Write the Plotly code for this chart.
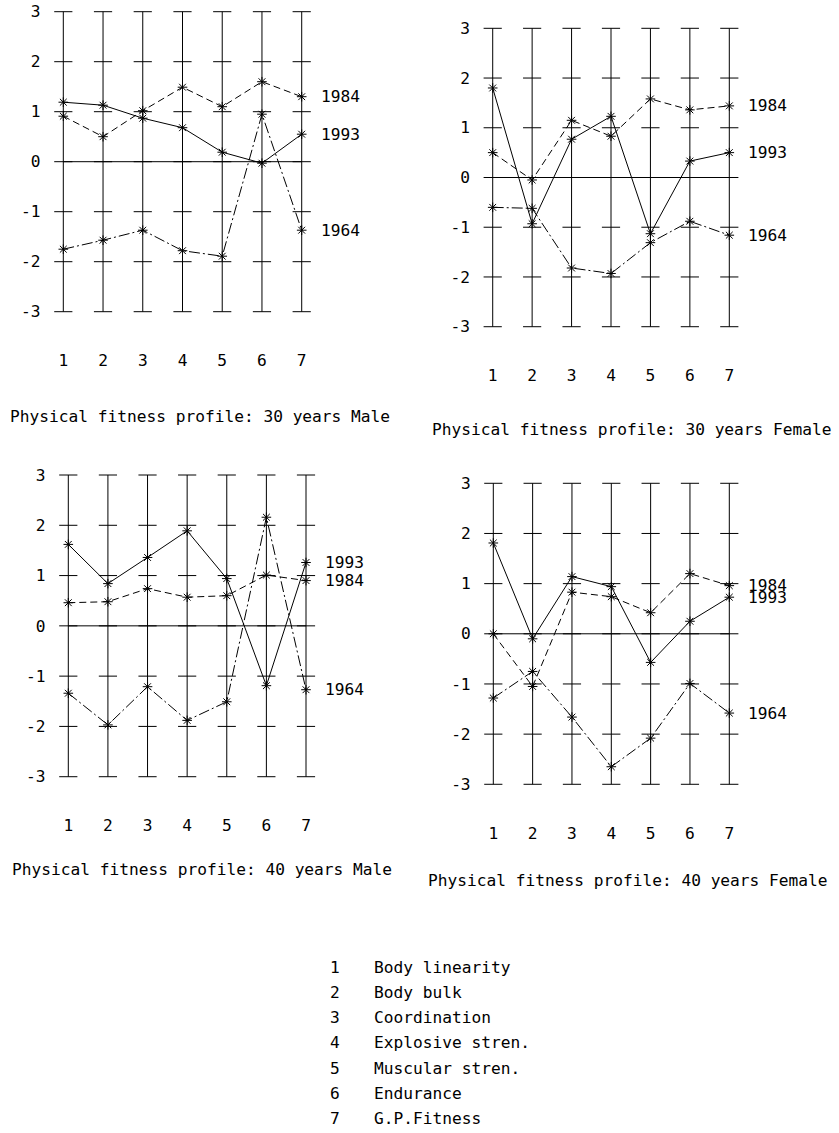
import plotly.graph_objects as go

W, H = 839, 1133
FONT = "DejaVu Sans Mono"
FS = 16.2

# ---------------- data ----------------
categories = [1, 2, 3, 4, 5, 6, 7]
category_names = ["Body linearity", "Body bulk", "Coordination", "Explosive stren.",
                  "Muscular stren.", "Endurance", "G.P.Fitness"]
y_ticks = [-3, -2, -1, 0, 1, 2, 3]
y_ticktext = ["-3", "-2", "-1", "0", "1", "2", "3"]
years = ["1993", "1984", "1964"]

m30_1993 = [1.19, 1.13, 0.87, 0.68, 0.19, -0.03, 0.55]
m30_1984 = [0.91, 0.50, 1.02, 1.49, 1.10, 1.60, 1.30]
m30_1964 = [-1.75, -1.57, -1.37, -1.78, -1.89, 0.95, -1.37]

f30_1993 = [1.80, -0.93, 0.77, 1.23, -1.13, 0.33, 0.50]
f30_1984 = [0.50, -0.05, 1.15, 0.83, 1.58, 1.36, 1.44]
f30_1964 = [-0.60, -0.62, -1.82, -1.93, -1.31, -0.88, -1.16]

m40_1993 = [1.62, 0.84, 1.36, 1.89, 0.94, -1.19, 1.26]
m40_1984 = [0.46, 0.48, 0.74, 0.57, 0.60, 1.01, 0.90]
m40_1964 = [-1.34, -1.97, -1.21, -1.88, -1.51, 2.16, -1.27]

f40_1993 = [1.81, -0.10, 1.14, 0.94, -0.57, 0.25, 0.73]
f40_1984 = [0.00, -1.05, 0.83, 0.74, 0.42, 1.20, 0.96]
f40_1964 = [-1.28, -0.75, -1.66, -2.65, -2.08, -0.99, -1.58]

titles = ["Physical fitness profile: 30 years Male",
          "Physical fitness profile: 30 years Female",
          "Physical fitness profile: 40 years Male",
          "Physical fitness profile: 40 years Female"]

# ---------------- layout (pixels) ----------------
# (x of category 1, x of category 7, y of +3, y of -3), title left, title y
panels = [
    dict(series=[m30_1993, m30_1984, m30_1964], px=(63.3, 301.7, 11.7, 311.7), tx=8, ty=417),
    dict(series=[f30_1993, f30_1984, f30_1964], px=(492.7, 729.3, 28.3, 326.7), tx=430, ty=429),
    dict(series=[m40_1993, m40_1984, m40_1964], px=(68.3, 306.0, 475.0, 776.7), tx=10, ty=869),
    dict(series=[f40_1993, f40_1984, f40_1964], px=(493.3, 729.3, 483.3, 784.3), tx=426, ty=880),
]
XR = [0.5, 7.5]
YR = [-3.7, 3.2]
styles = {"1993": "solid", "1984": "7px,4px", "1964": "11px,3px,2px,3px"}

fig = go.Figure()
layout_axes = {}
annotations = []

for i, p in enumerate(panels):
    n = i + 1
    xa = "x" if n == 1 else f"x{n}"
    ya = "y" if n == 1 else f"y{n}"
    x1px, x7px, y3px, ym3px = p["px"]
    step = (x7px - x1px) / 6
    pu = (ym3px - y3px) / 6
    left = x1px + (XR[0] - 1) * step
    right = x1px + (XR[1] - 1) * step
    top = y3px - (YR[1] - 3) * pu
    bot = ym3px + (-3 - YR[0]) * pu

    axis_common = dict(showgrid=False, zeroline=False, showline=False, ticks="",
                       automargin=False,
                       tickfont=dict(family=FONT, size=FS, color="black"))
    layout_axes["xaxis" if n == 1 else f"xaxis{n}"] = dict(
        domain=[left / W, right / W], range=XR, tickvals=categories,
        ticktext=[str(c) for c in categories], anchor=ya, ticklabelstandoff=2,
        **axis_common)
    layout_axes["yaxis" if n == 1 else f"yaxis{n}"] = dict(
        domain=[1 - bot / H, 1 - top / H], range=YR, tickvals=y_ticks,
        ticktext=y_ticktext, anchor=xa, ticklabelstandoff=2, **axis_common)

    # vertical scale lines
    vx, vy = [], []
    for c in categories:
        vx += [c, c, None]
        vy += [y_ticks[0], y_ticks[-1], None]
    fig.add_trace(go.Scatter(x=vx, y=vy, mode="lines", xaxis=xa, yaxis=ya,
                             line=dict(color="black", width=1), hoverinfo="skip",
                             showlegend=False))
    # tick marks on each scale line
    tx_, ty_ = [], []
    for c in categories:
        for t in y_ticks:
            tx_.append(c)
            ty_.append(t)
    fig.add_trace(go.Scatter(x=tx_, y=ty_, mode="markers", xaxis=xa, yaxis=ya,
                             marker=dict(symbol="line-ew", size=13,
                                         line=dict(color="black", width=1)),
                             hoverinfo="skip", showlegend=False, cliponaxis=False))
    # zero line
    fig.add_trace(go.Scatter(x=[categories[0], categories[-1]], y=[0, 0], mode="lines",
                             xaxis=xa, yaxis=ya, line=dict(color="black", width=1),
                             hoverinfo="skip", showlegend=False))
    # series
    for yr, vals in zip(years, p["series"]):
        fig.add_trace(go.Scatter(x=categories, y=vals, mode="lines+markers",
                                 xaxis=xa, yaxis=ya, name=yr, showlegend=False,
                                 line=dict(color="black", width=1, dash=styles[yr]),
                                 marker=dict(symbol="asterisk-open", size=8,
                                             line=dict(color="black", width=1)),
                                 cliponaxis=False))
        annotations.append(dict(x=categories[-1], y=vals[-1], xref=xa, yref=ya,
                                text=yr, showarrow=False, xanchor="left", xshift=17,
                                font=dict(family=FONT, size=FS, color="black")))
    annotations.append(dict(x=p["tx"] / W, y=1 - p["ty"] / H, xref="paper", yref="paper",
                            text=titles[i], showarrow=False, xanchor="left",
                            yanchor="middle",
                            font=dict(family=FONT, size=FS, color="black")))

# category key
for k, (c, name) in enumerate(zip(categories, category_names)):
    yy = 1 - (967 + k * 25.3) / H
    annotations.append(dict(x=342 / W, y=yy, xref="paper", yref="paper", text=str(c),
                            showarrow=False, xanchor="right", yanchor="middle",
                            font=dict(family=FONT, size=FS, color="black")))
    annotations.append(dict(x=372 / W, y=yy, xref="paper", yref="paper", text=name,
                            showarrow=False, xanchor="left", yanchor="middle",
                            font=dict(family=FONT, size=FS, color="black")))

fig.update_layout(template="none", width=W, height=H, autosize=False,
                  margin=dict(l=0, r=0, t=0, b=0, pad=0),
                  paper_bgcolor="white", plot_bgcolor="white",
                  annotations=annotations, **layout_axes)

fig.write_html("out.html", config={"displayModeBar": False, "staticPlot": True},
               post_script="document.body.style.margin='0';document.body.style.overflow='hidden';")
